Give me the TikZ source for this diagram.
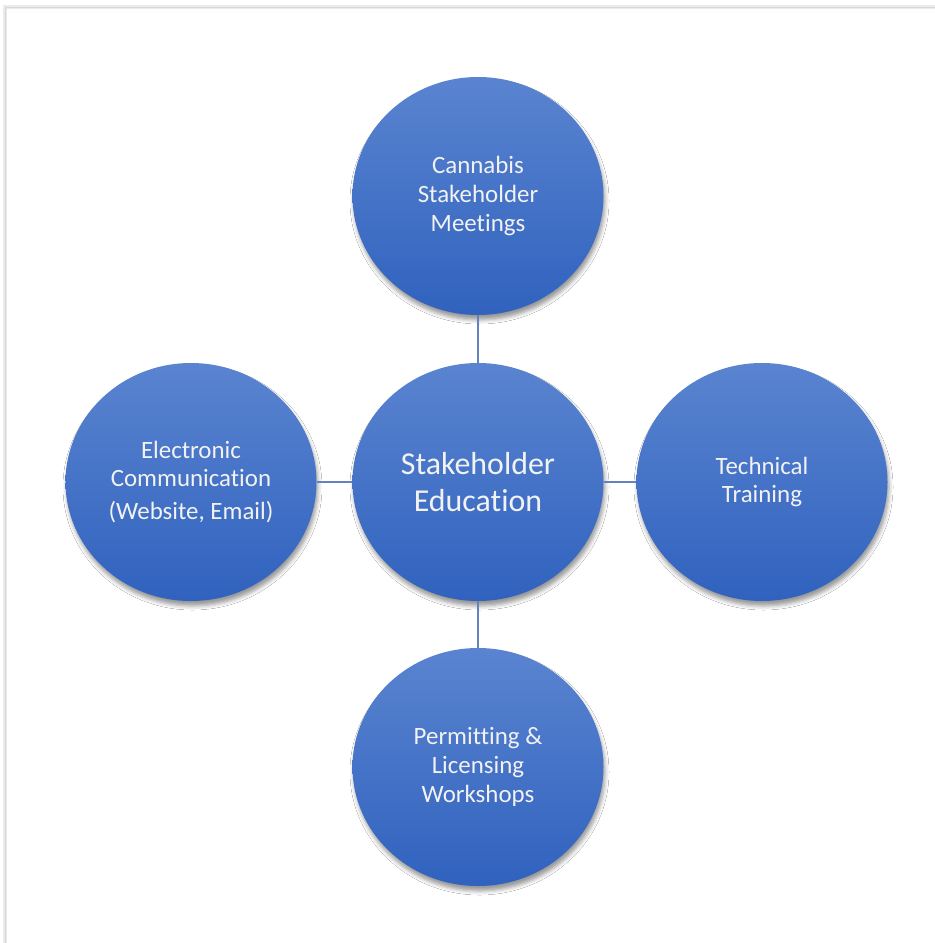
\documentclass[tikz,border=0pt]{standalone}
\usepackage{fontspec}
\setmainfont[Ligatures={NoCommon}]{Carlito}
\usetikzlibrary{shapes.geometric,shadows.blur}
\definecolor{topblue}{RGB}{90,132,208}
\definecolor{botblue}{RGB}{48,98,190}
\definecolor{linkblue}{RGB}{100,130,190}
\definecolor{txt}{RGB}{242,242,242}
\definecolor{framegray}{RGB}{215,215,215}
\tikzset{
  bubble/.style={ellipse, minimum width=251bp, minimum height=238bp, inner sep=0pt,
    top color=topblue, bottom color=botblue, draw=none, text=txt, align=center,
    font=\fontsize{25}{29}\selectfont,
    blur shadow={shadow xshift=1.5bp, shadow yshift=-5bp, shadow blur radius=4bp, shadow opacity=40}},
  hub/.style={bubble, font=\fontsize{32}{38}\selectfont},
  link/.style={draw=linkblue, line width=1.5bp}
}
\begin{document}
\begin{tikzpicture}[x=1bp,y=-1bp]
\useasboundingbox (0,0) rectangle (935,943);
\fill[white] (0,0) rectangle (935,943);
% page frame
\draw[framegray!50, line width=4bp] (5,943) -- (5,7) -- (935,7);
\draw[framegray, line width=1bp] (5,943) -- (5,7) -- (935,7);
% nodes
\node[hub] (c) at (478,482) {Stakeholder\\Education};
\node[bubble] (t) at (478,196) {Cannabis\\Stakeholder\\Meetings};
\node[bubble] (b) at (478,767) {Permitting \&\\Licensing\\Workshops};
\node[bubble] (l) at (191,482) {Electronic\\Communication\\[4bp](Website, Email)};
\node[bubble] (r) at (762,482) {Technical\\Training};
% connectors
\draw[link] (c) -- (t);
\draw[link] (c) -- (b);
\draw[link] (c) -- (l);
\draw[link] (c) -- (r);
\end{tikzpicture}
\end{document}
